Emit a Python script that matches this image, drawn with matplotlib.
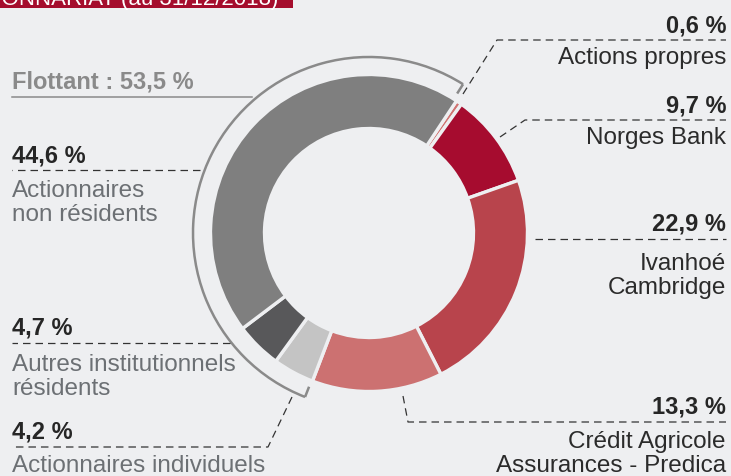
import numpy as np
import matplotlib.pyplot as plt
from matplotlib.patches import Arc, Rectangle

# data (clockwise, starting from the top right)
names = ["Actions propres", "Norges Bank", "Ivanhoé\nCambridge",
         "Crédit Agricole\nAssurances - Predica", "Actionnaires individuels",
         "Autres institutionnels\nrésidents", "Actionnaires\nnon résidents"]
values = [0.6, 9.7, 22.9, 13.3, 4.2, 4.7, 44.6]
pct_text = ["0,6 %", "9,7 %", "22,9 %", "13,3 %", "4,2 %", "4,7 %", "44,6 %"]
colors = ["#d07371", "#a60c2f", "#b8444c", "#cc7171", "#c4c4c4", "#58585a", "#7f7f7f"]
floating = [4, 5, 6]   # parts of the "Flottant"
floating_text = "Flottant : 53,5 %"
title = "ACTIONNARIAT (au 31/12/2018)"

W, H = 731, 477
bg = "#eeeff1"
cx, cy = 369, H - 234
R, ring = 158.5, 54
start = 33.5   # degrees, clockwise from the top

plt.rcParams["font.family"] = ["Liberation Sans", "DejaVu Sans"]
fig = plt.figure(figsize=(W / 100, H / 100), dpi=100, facecolor=bg)
ax = fig.add_axes([0, 0, 1, 1])
ax.set_facecolor(bg)

ax.pie(values, colors=colors, startangle=90 - start, counterclock=False,
       center=(cx, cy), radius=R,
       wedgeprops=dict(width=ring, edgecolor=bg, linewidth=2.4))

ax.set_xlim(0, W)
ax.set_ylim(0, H)
ax.set_aspect("equal")
ax.axis("off")

# bracket around the floating shares
cum = np.cumsum([0] + values) / 100 * 360 + start
a0 = cum[floating[0]] + 0.4
a1 = cum[floating[-1] + 1] - 1.2
rb = 176
ax.add_patch(Arc((cx, cy), 2 * rb, 2 * rb, theta1=90 - a1, theta2=90 - a0,
                 color="#8a8a8a", lw=1.8))
for a in (a0, a1):
    t = np.radians(90 - a)
    ax.plot([cx + rb * np.cos(t), cx + (rb - 11) * np.cos(t)],
            [cy + rb * np.sin(t), cy + (rb - 11) * np.sin(t)],
            color="#8a8a8a", lw=1.8, solid_capstyle="butt")

# leader lines (pixel coords from top)
dash = dict(color="#333333", lw=0.9, dashes=(6, 4))
leaders = [
    [(463, 95), (497, 41), (726, 41)],
    [(500, 138), (525, 121), (726, 121)],
    [(535, 240), (726, 240)],
    [(403, 397), (408, 423), (726, 423)],
    [(292, 398), (268, 448), (12, 448)],
    [(230, 344), (12, 344)],
    [(200, 171), (12, 171)],
]
for pts in leaders:
    xs = [p[0] for p in pts]
    ys = [H - p[1] for p in pts]
    ax.plot(xs, ys, **dash)

ax.plot([12, 252], [H - 98, H - 98], color="#8a8a8a", lw=1.1)

# labels: (x, baseline of pct, baseline of first name line, align)
label_pos = [
    (726, 32, 64, "right"),
    (726, 112, 144, "right"),
    (726, 231, 270, "right"),
    (726, 414, 448, "right"),
    (12, 439, 472, "left"),
    (12, 335, 371, "left"),
    (12, 162, 197, "left"),
]
fs = 17.5
for i, (x, yp, yn, ha) in enumerate(label_pos):
    ax.text(x, H - yp, pct_text[i], ha=ha, va="baseline", fontsize=fs - 0.5,
            fontweight="bold", color="#262626")
    col = "#2b2b2b" if ha == "right" else "#6c7074"
    for k, line in enumerate(names[i].split("\n")):
        ax.text(x, H - yn - 24 * k, line, ha=ha, va="baseline", fontsize=fs,
                color=col)

ax.text(12, H - 89, floating_text, ha="left", va="baseline", fontsize=fs - 0.5,
        fontweight="bold", color="#8a8a8a")

# header band cut by the top edge
ax.add_patch(Rectangle((0, H - 8.7), 293, 8.7, color="#a50d2d", lw=0, clip_on=False))
ax.text(278, H - 5, title, ha="right", va="baseline", fontsize=16,
        color="white", clip_on=False)

fig.savefig("out.png", dpi=100, facecolor=bg)
